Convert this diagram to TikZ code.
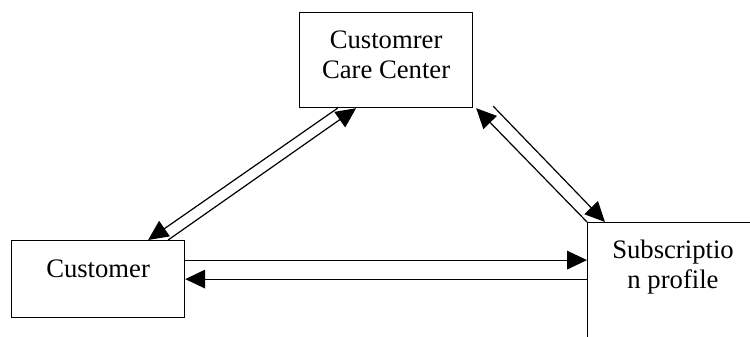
\documentclass[tikz,border=0pt]{standalone}
\usepackage{fontspec}
\setmainfont{Liberation Serif}
\usetikzlibrary{arrows.meta,calc}
\begin{document}
\begin{tikzpicture}[x=0.75pt,y=-0.75pt,
  box/.style={draw,line width=0.9pt,inner sep=0pt,anchor=north west},
  lbl/.style={font=\fontsize{20pt}{23pt}\selectfont,anchor=base,inner sep=0pt},
  flow/.style={line width=0.9pt,-{Triangle[length=15pt,width=14pt]}}]
\useasboundingbox (0,0) rectangle (750,336);
% boxes
\node[box,minimum width=173*0.75pt,minimum height=95*0.75pt] (care) at (299,12) {};
\node[box,minimum width=173*0.75pt,minimum height=77*0.75pt] (cust) at (11,240) {};
\node[box,minimum width=180*0.75pt,minimum height=130*0.75pt] (subs) at (587,222) {};
% labels, one node per printed line
\node[lbl] (careT1) at ($(care.north)+(0,36)$) {Customrer};
\node[lbl] (careT2) at ($(care.north)+(0,66)$) {Care Center};
\node[lbl] (custT) at ($(cust.north)+(0,37)$) {Customer};
\node[lbl] (subsT1) at (673,258) {Subscriptio};
\node[lbl] (subsT2) at (673,288) {n profile};
% Customer <-> Care Center
\draw[flow] ($(care.south)+(-48.5,0)$) -- ($(cust.north)+(50,0)$);
\draw[flow] ($(cust.north)+(70,0)$) -- ($(care.south)+(-30,0)$);
% Care Center <-> Subscription profile
\draw[flow] (subs.north west) -- ($(care.south east)+(3,0)$);
\draw[flow] ($(care.south east)+(20,-2)$) -- ($(subs.north west)+(18,0)$);
% Customer <-> Subscription profile
\draw[flow] ($(cust.east)+(0,-19)$) -- ($(subs.west |- cust.east)+(0,-19)$);
\draw[flow] (subs.west |- cust.east) -- (cust.east);
\end{tikzpicture}
\end{document}
